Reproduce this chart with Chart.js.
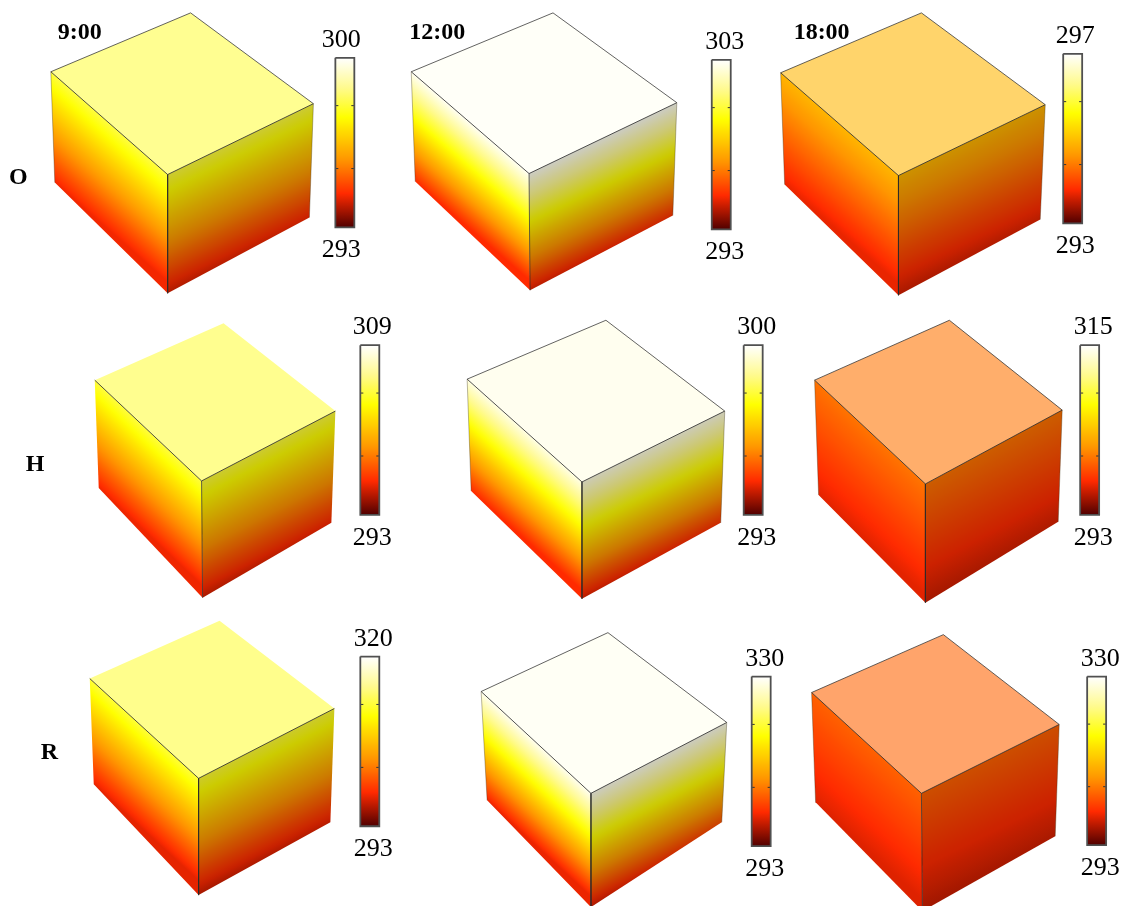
<!DOCTYPE html>
<html>
<head>
<meta charset="utf-8">
<style>html,body{margin:0;padding:0;background:#fff}canvas{display:block}</style>
<script src="https://cdn.jsdelivr.net/npm/chart.js@4"></script>
</head>
<body>
<canvas id="c" width="1123" height="907"></canvas>
<script>
// Column and row headings
const timeLabels = ['9:00', '12:00', '18:00'];
const rowLabels = ['O', 'H', 'R'];

// Colour-scale ranges, row by row
const scaleMin = [293, 293, 293, 293, 293, 293, 293, 293, 293];
const scaleMax = [300, 303, 297, 309, 300, 315, 320, 330, 330];

// Temperature read at the upper and lower edge of each cube's side faces (K)
const upperTemp = [298.1, 302.8, 294.9, 304.6, 299.7, 300.4, 312.4, 329.0, 304.2];
const lowerTemp = [294.3, 295.0, 293.7, 295.9, 294.4, 296.7, 297.6, 299.6, 299.0];

// Cube outlines, in picture units:
// left-top, back-top, right-top, near-top, left-bottom, near-bottom, right-bottom
const cube1 = [[50,71],[190,12],[313,103],[167,174],[54,182],[167,293],[309,217]];
const cube2 = [[411,71],[553,12],[677,102],[529,173],[415,181],[530,290],[673,215]];
const cube3 = [[781,72],[922,12],[1046,104],[899,175],[785,184],[899,295],[1041,219]];
const cube4 = [[94,380],[223,323],[335,411],[201,481],[98,488],[202,598],[331,523]];
const cube5 = [[467,379],[606,320],[725,411],[582,482],[471,491],[582,599],[721,523]];
const cube6 = [[815,380],[950,320],[1063,410],[926,484],[819,495],[926,603],[1059,522]];
const cube7 = [[89,679],[219,621],[334,709],[198,779],[93,785],[198,896],[330,823]];
const cube8 = [[481,692],[608,633],[727,723],[591,794],[487,801],[591,908],[722,823]];
const cube9 = [[812,693],[944,635],[1060,725],[922,794],[816,803],[923,912],[1056,837]];
const cubes = [cube1, cube2, cube3, cube4, cube5, cube6, cube7, cube8, cube9];
// Whether the outer top edges of the cube carry an outline
const outerEdges = [true, true, true, false, true, true, false, true, true];

// Colour bars: left, right, top, bottom, and label centre x
const barLeft   = [335, 712, 1064, 360, 744, 1081, 360, 752, 1088];
const barRight  = [354, 731, 1083, 379, 763, 1100, 379, 771, 1107];
const barTop    = [57, 59, 53, 345, 345, 345, 657, 677, 677];
const barBottom = [227, 229, 223, 515, 515, 515, 827, 847, 846];
const barLabelX = [341, 725, 1076, 372, 757, 1094, 373, 765, 1101];
const barTickFractions = [0.718, 0.347];

const heatStops = [
  [0, [80, 0, 0]], [0.2, [255, 42, 0]], [0.4, [255, 150, 0]],
  [0.65, [255, 255, 0]], [0.82, [255, 250, 140]], [1, [255, 255, 255]]
];
function heat(t) {
  t = Math.max(0, Math.min(1, t));
  for (let i = 1; i < heatStops.length; i++) {
    const [a, ca] = heatStops[i - 1], [b, cb] = heatStops[i];
    if (t <= b) {
      const f = (t - a) / (b - a);
      return ca.map((v, k) => v + (cb[k] - v) * f);
    }
  }
  return [255, 255, 255];
}
const css = c => `rgb(${c.map(v => Math.round(v)).join(',')})`;
const pts = list => list.map(([x, y]) => ({ x, y }));

function faceGradient(chart, p, q, far, lo, hi, shade) {
  const X = chart.scales.x, Y = chart.scales.y;
  if (!X || !Y) return 'rgba(0,0,0,0)';
  const ax = X.getPixelForValue(p[0]), ay = Y.getPixelForValue(p[1]);
  const bx = X.getPixelForValue(q[0]), by = Y.getPixelForValue(q[1]);
  const fx = X.getPixelForValue(far[0]), fy = Y.getPixelForValue(far[1]);
  if (![ax, ay, bx, by, fx, fy].every(Number.isFinite)) return 'rgba(0,0,0,0)';
  let nx = -(by - ay), ny = bx - ax;
  const len = Math.hypot(nx, ny); nx /= len; ny /= len;
  const d = (fx - ax) * nx + (fy - ay) * ny;
  const g = chart.ctx.createLinearGradient(ax, ay, ax + nx * d, ay + ny * d);
  for (let i = 0; i <= 24; i++) {
    const u = i / 24;
    g.addColorStop(u, css(heat(hi + (lo - hi) * u).map(v => v * shade)));
  }
  return g;
}
function barGradient(chart, i) {
  const Y = chart.scales.y;
  if (!Y) return 'rgba(0,0,0,0)';
  const y0 = Y.getPixelForValue(barBottom[i]), y1 = Y.getPixelForValue(barTop[i]);
  if (!Number.isFinite(y0) || !Number.isFinite(y1)) return 'rgba(0,0,0,0)';
  const g = chart.ctx.createLinearGradient(0, y0, 0, y1);
  for (let k = 0; k <= 40; k++) g.addColorStop(k / 40, css(heat(k / 40)));
  return g;
}

const shape = (data, backgroundColor) => ({
  data: pts(data), showLine: true, fill: 'shape', backgroundColor,
  borderWidth: 0, pointRadius: 0, tension: 0, order: 2
});
const edge = (data, borderColor, borderWidth) => ({
  data: pts(data), showLine: true, fill: false, borderColor, borderWidth,
  pointRadius: 0, tension: 0, order: 1
});

const datasets = [];
cubes.forEach((c, i) => {
  const [A, B, C, D, E, F, G] = c;
  const range = scaleMax[i] - scaleMin[i];
  const hi = (upperTemp[i] - scaleMin[i]) / range;
  const lo = (lowerTemp[i] - scaleMin[i]) / range;
  const lit = heat(hi).map(v => v + (255 - v) * 0.42);
  datasets.push(shape([A, D, F, E, A], ctx => faceGradient(ctx.chart, A, D, E, lo, hi, 1)));
  datasets.push(shape([D, C, G, F, D], ctx => faceGradient(ctx.chart, D, C, F, lo * 0.85, hi, 0.8)));
  datasets.push(shape([A, B, C, D, A], css(lit)));
  if (outerEdges[i]) {
    datasets.push(edge([A, B, C], 'rgba(50,50,50,0.85)', 0.9));
    datasets.push(edge([A, E], 'rgba(60,50,20,0.45)', 0.8));
    datasets.push(edge([C, G], 'rgba(60,50,20,0.45)', 0.8));
  }
  datasets.push(edge([A, D, C], 'rgba(40,40,40,0.9)', 0.9));
  datasets.push(edge([D, F], 'rgba(40,40,40,0.8)', 0.9));
});
barLeft.forEach((l, i) => {
  const r = barRight[i], t = barTop[i], b = barBottom[i];
  datasets.push(shape([[l,t],[r,t],[r,b],[l,b],[l,t]], ctx => barGradient(ctx.chart, i)));
  datasets.push(edge([[l,t],[r,t],[r,b],[l,b],[l,t]], '#505050', 1.8));
  barTickFractions.forEach(f => {
    const y = b + (t - b) * f;
    datasets.push(edge([[l, y], [l + 3, y]], '#333', 1));
    datasets.push(edge([[r - 3, y], [r, y]], '#333', 1));
  });
});

const textPlugin = {
  id: 'panelText',
  afterDraw(chart) {
    const { ctx, scales: { x: X, y: Y } } = chart;
    const put = (s, x, y, font, align) => {
      ctx.font = font; ctx.textAlign = align; ctx.textBaseline = 'alphabetic'; ctx.fillStyle = '#000';
      ctx.fillText(s, X.getPixelForValue(x), Y.getPixelForValue(y));
    };
    const serif = '"Liberation Serif", serif';
    const bold = `bold 24px ${serif}`;
    [57, 409, 794].forEach((x, i) => put(timeLabels[i], x, 38, bold, 'left'));
    [[8, 183], [25, 471], [40, 760]].forEach(([x, y], i) => put(rowLabels[i], x, y, bold, 'left'));
    barLabelX.forEach((x, i) => {
      put(String(scaleMax[i]), x, barTop[i] - 11, `26px ${serif}`, 'center');
      put(String(scaleMin[i]), x, barBottom[i] + 30, `26px ${serif}`, 'center');
    });
  }
};

const chart = new Chart(document.getElementById('c'), {
  type: 'scatter',
  data: { datasets },
  plugins: [textPlugin],
  options: {
    responsive: false,
    animation: false,
    devicePixelRatio: 1,
    layout: { padding: 0 },
    plugins: { legend: { display: false }, tooltip: { enabled: false } },
    scales: {
      x: { type: 'linear', min: 0, max: 1123, display: false },
      y: { type: 'linear', min: 0, max: 907, reverse: true, display: false }
    }
  }
});
chart.update();
</script>
</body>
</html>
